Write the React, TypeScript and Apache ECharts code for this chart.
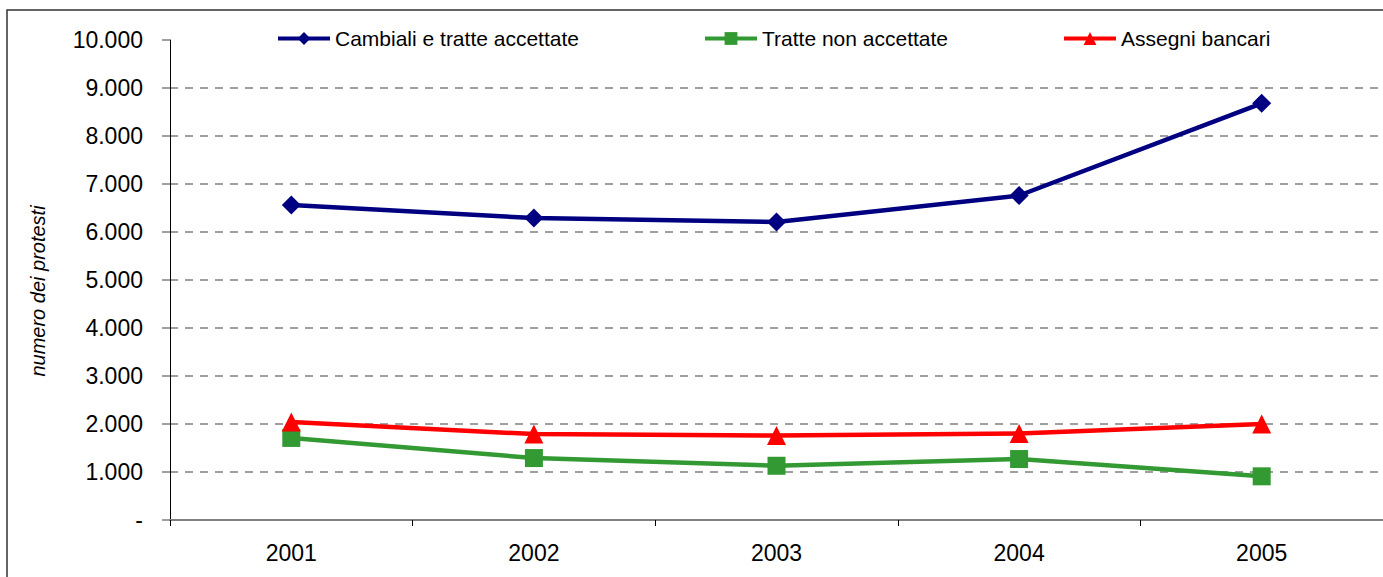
import React, { useEffect, useRef } from "react";
import * as echarts from "echarts";

const years = ["2001", "2002", "2003", "2004", "2005"];
const cambiali = [6560, 6290, 6210, 6760, 8680];
const tratte = [1710, 1290, 1130, 1270, 910];
const assegni = [2040, 1790, 1760, 1800, 2000];
const yTicks = [0, 1000, 2000, 3000, 4000, 5000, 6000, 7000, 8000, 9000, 10000];
const yTitle = "numero dei protesti";

const FONT = "'Liberation Sans', Arial, sans-serif";

const fmt = (v: number) => (v === 0 ? "-" : v.toLocaleString("de-DE"));

export default function App() {
  const ref = useRef<HTMLDivElement>(null);
  useEffect(() => {
    if (!ref.current) return;
    const chart = echarts.init(ref.current, undefined, { renderer: "svg" });
    const mkLegend = (name: string, left: number) => ({
      show: true,
      data: [name],
      left,
      top: 28,
      itemWidth: 52,
      itemHeight: 16,
      itemGap: 0,
      padding: 0,
      lineStyle: { width: 4 },
      textStyle: { fontFamily: FONT, fontSize: 21, color: "#000" },
    });
    chart.setOption({
      animation: false,
      backgroundColor: "#fff",
      textStyle: { fontFamily: FONT },
      graphic: [
        {
          type: "rect",
          shape: { x: 7, y: 10, width: 1400, height: 600 },
          style: { fill: "none", stroke: "#333", lineWidth: 1.5 },
          silent: true,
        },
        {
          type: "text",
          x: 38,
          y: 291,
          rotation: Math.PI / 2,
          silent: true,
          style: {
            text: yTitle,
            fontFamily: FONT,
            fontSize: 20,
            fontStyle: "italic",
            fill: "#000",
            textAlign: "center",
            textVerticalAlign: "middle",
          },
        },
      ],
      legend: [
        mkLegend("Cambiali e tratte accettate", 276),
        mkLegend("Tratte non accettate", 703),
        mkLegend("Assegni bancari", 1062),
      ],
      grid: { left: 170, right: 0, top: 40, bottom: 57, containLabel: false },
      xAxis: {
        type: "category",
        data: years,
        boundaryGap: true,
        axisLine: { lineStyle: { color: "#808080", width: 2 } },
        axisTick: { show: true, length: 6, lineStyle: { color: "#000", width: 1 } },
        axisLabel: { color: "#000", fontSize: 23, fontFamily: FONT, margin: 21 },
      },
      yAxis: {
        type: "value",
        min: yTicks[0],
        max: yTicks[yTicks.length - 1],
        interval: 1000,
        axisLine: { show: true, lineStyle: { color: "#000", width: 1 } },
        axisTick: { show: true, length: 8, lineStyle: { color: "#808080", width: 1.5 } },
        axisLabel: {
          color: "#000",
          fontSize: 23,
          fontFamily: FONT,
          margin: 27,
          formatter: (v: number) => fmt(v),
        },
        splitLine: {
          show: true,
          showMinLine: false,
          showMaxLine: false,
          lineStyle: { color: "#808080", type: [8, 7], width: 1.5 },
        },
      },
      series: [
        {
          name: "Cambiali e tratte accettate",
          type: "line",
          data: cambiali,
          symbol: "diamond",
          symbolSize: 19,
          lineStyle: { color: "#000080", width: 4.5 },
          itemStyle: { color: "#000080" },
        },
        {
          name: "Tratte non accettate",
          type: "line",
          data: tratte,
          symbol: "rect",
          symbolSize: 18,
          lineStyle: { color: "#339933", width: 4.5 },
          itemStyle: { color: "#339933" },
        },
        {
          name: "Assegni bancari",
          type: "line",
          data: assegni,
          symbol: "triangle",
          symbolSize: 19,
          lineStyle: { color: "#ff0000", width: 4.5 },
          itemStyle: { color: "#ff0000" },
        },
      ],
    });
    return () => chart.dispose();
  }, []);
  return (
    <div
      ref={ref}
      style={{ position: "fixed", left: 0, top: 0, width: 1383, height: 577 }}
    />
  );
}
